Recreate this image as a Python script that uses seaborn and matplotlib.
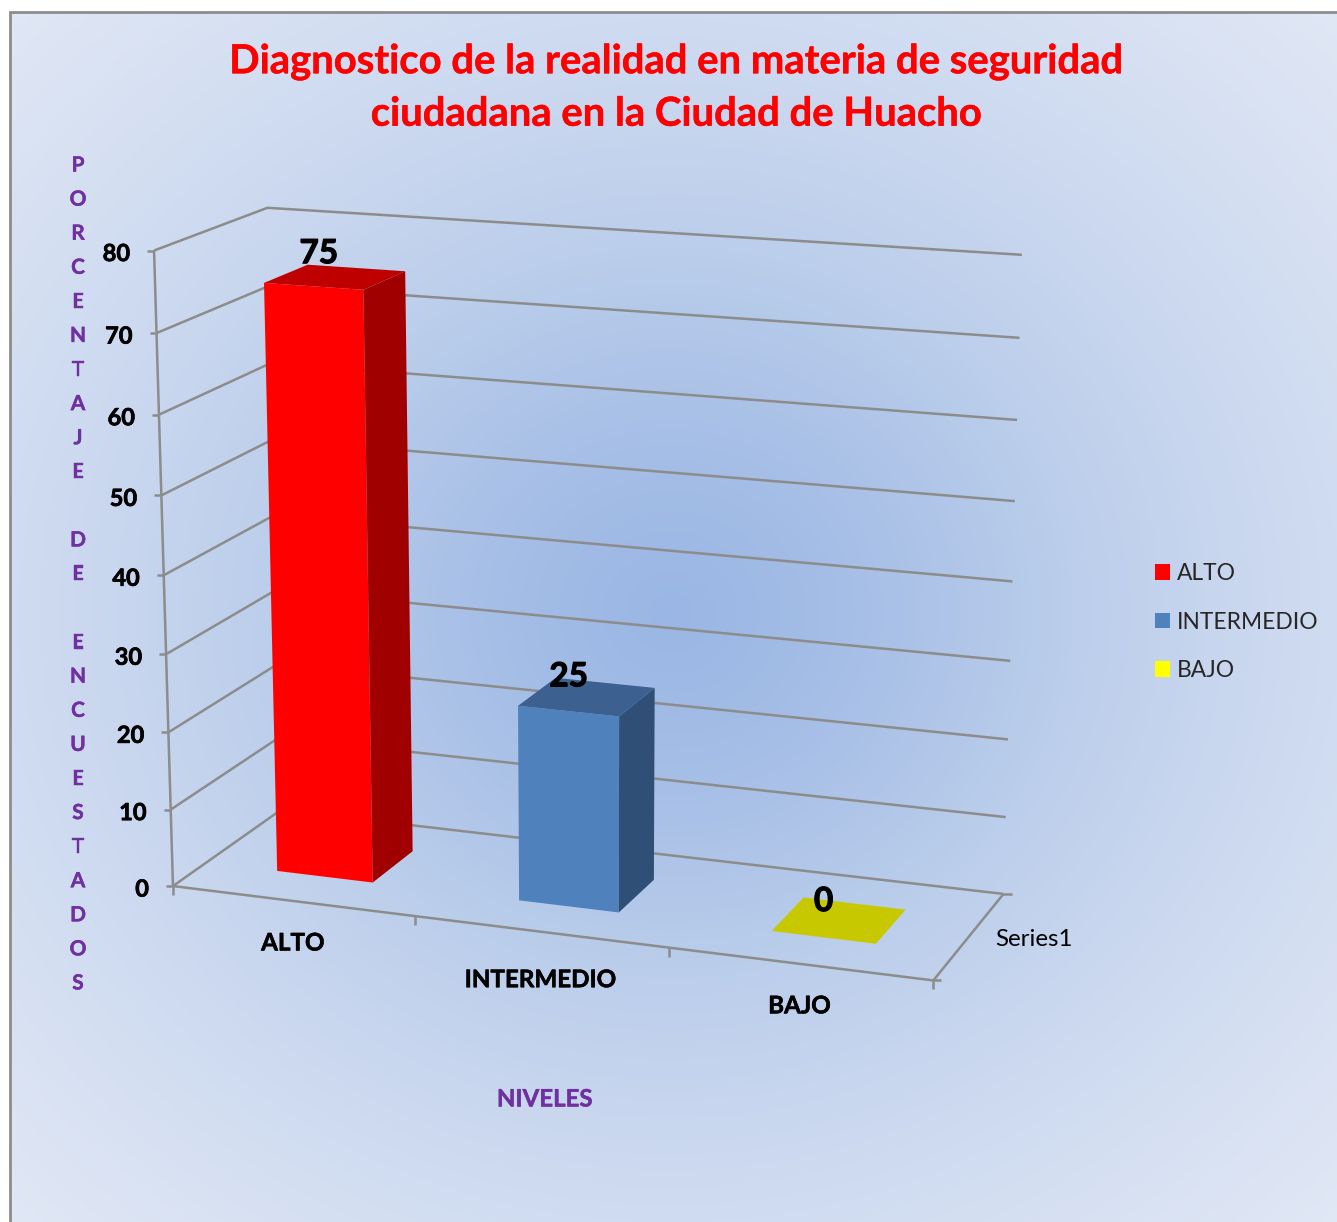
import numpy as np
import pandas as pd
import matplotlib
matplotlib.use("Agg")
import matplotlib.pyplot as plt
import matplotlib.patheffects as pe
from matplotlib.patches import Polygon
from matplotlib.transforms import Affine2D, Transform
import seaborn as sns

# ---------- data ----------
categories = ["ALTO", "INTERMEDIO", "BAJO"]
values = [75, 25, 0]
value_ticks = [0, 10, 20, 30, 40, 50, 60, 70, 80]
series_label = "Series1"
title_text = "Diagnostico de la realidad en materia de seguridad\nciudadana en la Ciudad de Huacho"
y_title = "PORCENTAJE DE ENCUESTADOS"
x_title = "NIVELES"

front_colors = ["#ff0000", "#4f81bd", "#ffff00"]
top_colors = ["#bf0000", "#3c6190", "#c8c800"]
side_colors = ["#a00000", "#2f4f77", "#a8a800"]

W, H = 1337, 1222
GRID = "#8c8c8c"
PURPLE = "#7030a0"
sns.set_theme(style="white")
plt.rcParams["font.family"] = ["Lato", "DejaVu Sans"]


def heavy(color, width=0.5):
    return [pe.withStroke(linewidth=width, foreground=color)]


# ---------- perspective camera calibrated on the chart's frame ----------
frame_model = np.array([
    (0, 0, 0), (3, 0, 0), (3, 1, 0), (0, 1, 0), (0, 0, 80), (0, 1, 80), (3, 1, 80),
    (1, 0, 0), (2, 0, 0), (3, 1, 40), (0, 0, 40)], float)
frame_pixel = np.array([
    (173, 886), (933, 980), (1003, 894), (281, 810), (154, 251), (267, 208), (1022, 255),
    (415, 917), (669, 948), (1013, 581), (164, 574)], float)


def fit_camera(m, p):
    rows, rhs = [], []
    for (a, b, c), (u, v) in zip(m, p):
        a, c = a / 3, c / 80
        rows.append([a, b, c, 1, 0, 0, 0, 0, -u * a, -u * b, -u * c])
        rhs.append(u)
        rows.append([0, 0, 0, 0, a, b, c, 1, -v * a, -v * b, -v * c])
        rhs.append(v)
    sol = np.linalg.lstsq(np.array(rows), np.array(rhs), rcond=None)[0]
    return np.append(sol, 1).reshape(3, 4)


CAM = fit_camera(frame_model, frame_pixel)


def project(x, d, v):
    x, d, v = np.broadcast_arrays(np.asarray(x, float), np.asarray(d, float), np.asarray(v, float))
    q = np.stack([x / 3, d, v / 80, np.ones_like(x)], axis=-1)
    r = q @ CAM.T
    return r[..., 0] / r[..., 2], r[..., 1] / r[..., 2]


px_trans = Affine2D().scale(1, -1).translate(0, H)


class FrontFace(Transform):
    """Maps a seaborn bar (category axis, value axis) on to the plane at a given depth."""
    input_dims = 2
    output_dims = 2
    is_separable = False
    has_inverse = False

    def __init__(self, plane):
        super().__init__()
        self.plane = plane

    def transform_non_affine(self, values):
        values = np.asarray(values, float)
        u, v = project(values[:, 0] + 0.5, self.plane, values[:, 1])
        return np.column_stack([u, H - v])


# ---------- figure and background ----------
fig = plt.figure(figsize=(W / 100, H / 100), dpi=100, facecolor="white")
bg = fig.add_axes([0, 0, 1, 1])
bg.set_axis_off()

yy, xx = np.mgrid[12:H, 11:W]
rr = np.hypot((xx - 670) / 670, (yy - 612) / 610)
stops = [0, 0.2, 0.4, 0.6, 0.8, 1.0, 1.2, 1.45]
cols = np.array([matplotlib.colors.to_rgb(c) for c in
                 ["#9ab6e4", "#a2bce6", "#aec4e8", "#bbceeb", "#c7d5ee", "#d0dcf1", "#d9e2f3", "#e2e9f6"]])
img = np.stack([np.interp(rr, stops, cols[:, k]) for k in range(3)], axis=-1)
bg.imshow(img, extent=(11, W, H, 12), aspect="auto", interpolation="bilinear", zorder=0)
bg.set_xlim(0, W)
bg.set_ylim(H, 0)
bg.plot([10.4, 10.4, W], [H, 11.5, 11.5], color="#8c8c8c", lw=2, zorder=1, solid_joinstyle="miter")

# ---------- walls, floor and ticks ----------
line = dict(color=GRID, lw=1.8, zorder=2, solid_capstyle="butt")
for v in value_ticks:
    a, b, c = project(0, 0, v), project(0, 1, v), project(3, 1, v)
    bg.plot([a[0], b[0], c[0]], [a[1], b[1], c[1]], **line)
    bg.plot([a[0] - 7, a[0]], [a[1], a[1]], **line)
    bg.text(a[0] - 24, a[1] + 3, str(v), ha="right", va="center", fontsize=17, fontweight="bold",
            color="black", path_effects=heavy("black"))
a, b = project(0, 0, 0), project(0, 0, 80)
bg.plot([a[0], b[0]], [a[1], b[1]], **line)
a, b, c = project(0, 0, 0), project(3, 0, 0), project(3, 1, 0)
bg.plot([a[0], b[0], c[0]], [a[1], b[1], c[1]], **line)
bg.plot([c[0], c[0] + 9], [c[1], c[1]], **line)
bg.plot([b[0], b[0] + 8], [b[1], b[1]], **line)
for i in range(4):
    u, v = project(i, 0, 0)
    bg.plot([u, u], [v, v + 9], **line)
name_offsets = [42, 48, 42]
for i, name in enumerate(categories):
    u, v = project(i + 0.5, 0, 0)
    bg.text(u, v + name_offsets[i], name, ha="center", va="center", fontsize=17.4, fontweight="bold",
            color="black", path_effects=heavy("black", 0.4))
u, v = project(3, 0.5, 0)
bg.text(u + 65, v + 4, series_label, ha="center", va="center", fontsize=17.4, color="black")

# ---------- bars ----------
ax = fig.add_axes([0, 0, 1, 1], facecolor="none")
df = pd.DataFrame({"nivel": categories, "valor": values})
sns.barplot(data=df, x="nivel", y="valor", hue="nivel", hue_order=categories,
            palette=dict(zip(categories, front_colors)), width=0.4, saturation=1,
            dodge=False, legend=True, ax=ax)
sns.move_legend(ax, "center left", bbox_to_anchor=(1155 / W, 1 - 622 / H), bbox_transform=fig.transFigure,
                frameon=False, title=None, fontsize=16.4, handlelength=0.66, handleheight=0.66,
                handletextpad=0.32, labelspacing=1.2, borderpad=0, borderaxespad=0)
for handle in ax.get_legend().get_patches():
    handle.set_linewidth(0)
ax.set_axis_off()

D0, D1 = 0.3, 0.7
label_offsets = [(11, -11), (13, -1), (20, 4)]
for patch in list(ax.patches):
    x0, w, h = patch.get_x(), patch.get_width(), patch.get_height()
    i = int(round(x0 + w / 2))
    if not np.isfinite(h) or abs(h - values[i]) > 1e-9:
        patch.set_visible(False)
        continue
    xl, xr = x0 + 0.5, x0 + w + 0.5
    patch.set_transform(FrontFace(D0))
    patch.set_clip_on(False)
    patch.set_linewidth(0)
    patch.set_zorder(3)
    side = [project(xr, D0, 0), project(xr, D1, 0), project(xr, D1, h), project(xr, D0, h)]
    top = [project(xl, D0, h), project(xr, D0, h), project(xr, D1, h), project(xl, D1, h)]
    if h > 0:
        ax.add_patch(Polygon(np.array(side, float), closed=True, transform=px_trans, facecolor=side_colors[i],
                             linewidth=0, clip_on=False, zorder=3))
    ax.add_patch(Polygon(np.array(top, float), closed=True, transform=px_trans, facecolor=top_colors[i],
                         linewidth=0, clip_on=False, zorder=3))
    u, v = project(xl, D1, h)
    ax.text(u + label_offsets[i][0], v + label_offsets[i][1], str(values[i]), transform=px_trans,
            ha="center", va="center", fontsize=24, fontweight="bold", color="black", zorder=5, clip_on=False,
            path_effects=heavy("black", 0.8))

# ---------- titles ----------
fig.text(677 / W, 1 - 88 / H, title_text, ha="center", va="center", color="#ff0000",
         fontsize=28.8, fontweight="bold", linespacing=1.5, multialignment="center",
         path_effects=heavy("#ff0000", 0.3))
fig.text(78 / W, 1 - 574.5 / H, "\n".join(list(y_title)), ha="center", va="center", color=PURPLE,
         fontsize=15, fontweight="bold", linespacing=1.88, multialignment="center",
         path_effects=heavy(PURPLE, 0.3))
fig.text(544.5 / W, 1 - 1099 / H, x_title, ha="center", va="center", color=PURPLE,
         fontsize=17.3, fontweight="bold", path_effects=heavy(PURPLE, 0.3))

fig.savefig("out.png", dpi=100, facecolor="white")
